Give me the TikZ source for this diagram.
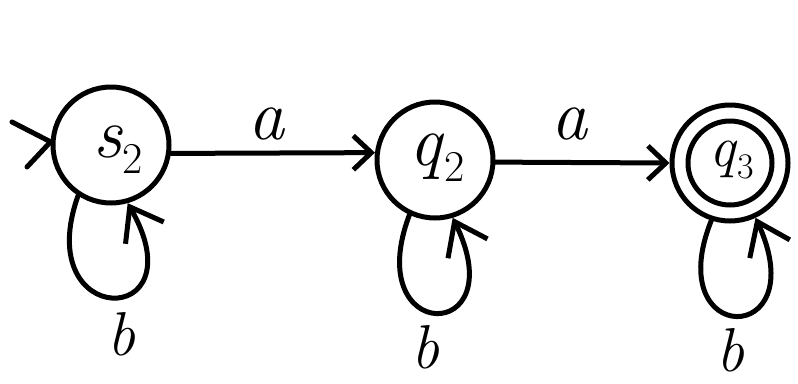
\documentclass[tikz,border=0pt]{standalone}
\usepackage{fontspec}
\usetikzlibrary{arrows.meta}
\newcommand{\stl}[2]{\textit{#1}\raisebox{-0.22em}{\fontsize{44}{44}\selectfont #2}}
\begin{document}
\begin{tikzpicture}[x=1pt,y=-1pt,
  line width=5pt, line cap=round, line join=round,
  state/.style={draw, circle, minimum size=116pt, inner sep=0pt, line width=5pt},
  lbl/.style={font=\fontsize{72}{76}\selectfont, inner sep=0pt},
  blbl/.style={font=\fontsize{62}{66}\selectfont, inner sep=0pt, anchor=base},
  slbl/.style={font=\fontsize{58}{62}\selectfont, inner sep=0pt},
  arr/.style={-{Straight Barb[length=18pt,width=34pt,line width=5pt]}},
  looparr/.style={-{Straight Barb[length=30pt,width=44pt,line width=5pt]}}]
\useasboundingbox (0,0) rectangle (798,383);
% states
\node[state] (s2) at (111,145) {};
\node[state] (q2) at (435,160) {};
\node[state] (q3) at (730,163) {};
\node[draw, circle, minimum size=84pt, inner sep=0pt] (q3i) at (q3.center) {};
% state labels
\node[lbl] (ls2) at (118,150) {\stl{s}{2}};
\node[lbl] (lq2) at (437,158) {\stl{q}{2}};
\node[slbl] (lq3) at (732,160) {\textit{q}\raisebox{-0.22em}{\fontsize{36}{36}\selectfont 3}};
% initial marker
\coordinate (i1) at (12,122);
\coordinate (i2) at (27,167);
\draw (i1) -- (s2.177) -- (i2);
% transitions
\draw[arr] (s2.-8) -- (q2.173);
\node[lbl, anchor=base] (a1) at (267,139) {\textit{a}};
\draw[arr] (q2.-2) -- (q3.180);
\node[lbl, anchor=base] (a2) at (570,139) {\textit{a}};
% self loops
\draw[looparr] (s2.237) .. controls (30,330) and (200,330) .. (s2.286);
\node[blbl] (b1) at (121,355) {\textit{b}};
\draw[looparr] (q2.245) .. controls (360,345) and (515,345) .. (q2.287);
\node[blbl] (b2) at (425,368) {\textit{b}};
\draw[looparr] (q3.252) .. controls (660,348) and (815,348) .. (q3.295);
\node[blbl] (b3) at (730,371) {\textit{b}};
\end{tikzpicture}
\end{document}
